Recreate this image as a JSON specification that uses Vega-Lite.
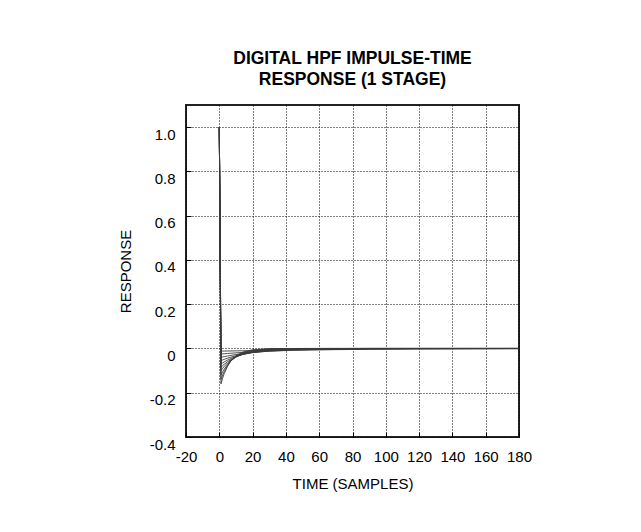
{
  "$schema": "https://vega.github.io/schema/vega-lite/v6.json",
  "autosize": "none",
  "width": 333,
  "height": 332,
  "padding": {"left": 186, "top": 105, "right": 122, "bottom": 95},
  "background": "#ffffff",
  "title": {
    "text": ["DIGITAL HPF IMPULSE-TIME", "RESPONSE (1 STAGE)"],
    "anchor": "middle",
    "font": "Liberation Sans",
    "fontSize": 17.5,
    "fontWeight": "bold",
    "lineHeight": 21,
    "color": "#000000",
    "offset": 17
  },
  "config": {
    "view": {"stroke": "#222222", "strokeWidth": 2},
    "axis": {
      "labelFont": "Liberation Sans",
      "titleFont": "Liberation Sans",
      "labelFontSize": 15,
      "titleFontSize": 15,
      "titleFontWeight": "normal",
      "labelColor": "#000000",
      "titleColor": "#000000",
      "domain": false,
      "grid": true,
      "gridColor": "#000000",
      "gridOpacity": 1,
      "gridWidth": 1,
      "gridDash": [1, 2],
      "ticks": true,
      "tickSize": -5,
      "tickColor": "#000000",
      "tickWidth": 1
    }
  },
  "data": {
    "values": [
      {"c":"a","t":0,"r":1},{"c":"a","t":1,"r":-0.16},{"c":"a","t":2,"r":-0.1344},{"c":"a","t":3,"r":-0.1129},{"c":"a","t":5,"r":-0.0797},{"c":"a","t":7,"r":-0.0562},{"c":"a","t":10,"r":-0.0333},{"c":"a","t":14,"r":-0.0166},{"c":"a","t":20,"r":-0.0058},{"c":"a","t":30,"r":-0.001},{"c":"a","t":45,"r":-0.0001},{"c":"a","t":60,"r":0},{"c":"a","t":90,"r":0},{"c":"a","t":120,"r":0},{"c":"a","t":180,"r":0},
      {"c":"b","t":0,"r":1},{"c":"b","t":1,"r":-0.14},{"c":"b","t":2,"r":-0.1204},{"c":"b","t":3,"r":-0.1035},{"c":"b","t":5,"r":-0.0766},{"c":"b","t":7,"r":-0.0566},{"c":"b","t":10,"r":-0.036},{"c":"b","t":14,"r":-0.0197},{"c":"b","t":20,"r":-0.008},{"c":"b","t":30,"r":-0.0018},{"c":"b","t":45,"r":-0.0002},{"c":"b","t":60,"r":0},{"c":"b","t":90,"r":0},{"c":"b","t":120,"r":0},{"c":"b","t":180,"r":0},
      {"c":"c","t":0,"r":1},{"c":"c","t":1,"r":-0.12},{"c":"c","t":2,"r":-0.1056},{"c":"c","t":3,"r":-0.0929},{"c":"c","t":5,"r":-0.072},{"c":"c","t":7,"r":-0.0557},{"c":"c","t":10,"r":-0.038},{"c":"c","t":14,"r":-0.0228},{"c":"c","t":20,"r":-0.0106},{"c":"c","t":30,"r":-0.0029},{"c":"c","t":45,"r":-0.0004},{"c":"c","t":60,"r":-0.0001},{"c":"c","t":90,"r":0},{"c":"c","t":120,"r":0},{"c":"c","t":180,"r":0},
      {"c":"d","t":0,"r":1},{"c":"d","t":1,"r":-0.1},{"c":"d","t":2,"r":-0.09},{"c":"d","t":3,"r":-0.081},{"c":"d","t":5,"r":-0.0656},{"c":"d","t":7,"r":-0.0531},{"c":"d","t":10,"r":-0.0387},{"c":"d","t":14,"r":-0.0254},{"c":"d","t":20,"r":-0.0135},{"c":"d","t":30,"r":-0.0047},{"c":"d","t":45,"r":-0.001},{"c":"d","t":60,"r":-0.0002},{"c":"d","t":90,"r":0},{"c":"d","t":120,"r":0},{"c":"d","t":180,"r":0},
      {"c":"e","t":0,"r":1},{"c":"e","t":1,"r":-0.085},{"c":"e","t":2,"r":-0.0778},{"c":"e","t":3,"r":-0.0712},{"c":"e","t":5,"r":-0.0596},{"c":"e","t":7,"r":-0.0499},{"c":"e","t":10,"r":-0.0382},{"c":"e","t":14,"r":-0.0268},{"c":"e","t":20,"r":-0.0157},{"c":"e","t":30,"r":-0.0065},{"c":"e","t":45,"r":-0.0017},{"c":"e","t":60,"r":-0.0005},{"c":"e","t":90,"r":0},{"c":"e","t":120,"r":0},{"c":"e","t":180,"r":0},
      {"c":"f","t":0,"r":1},{"c":"f","t":1,"r":-0.07},{"c":"f","t":2,"r":-0.0651},{"c":"f","t":3,"r":-0.0605},{"c":"f","t":5,"r":-0.0524},{"c":"f","t":7,"r":-0.0453},{"c":"f","t":10,"r":-0.0364},{"c":"f","t":14,"r":-0.0273},{"c":"f","t":20,"r":-0.0176},{"c":"f","t":30,"r":-0.0085},{"c":"f","t":45,"r":-0.0029},{"c":"f","t":60,"r":-0.001},{"c":"f","t":90,"r":-0.0001},{"c":"f","t":120,"r":0},{"c":"f","t":180,"r":0},
      {"c":"g","t":0,"r":1},{"c":"g","t":1,"r":-0.055},{"c":"g","t":2,"r":-0.052},{"c":"g","t":3,"r":-0.0491},{"c":"g","t":5,"r":-0.0439},{"c":"g","t":7,"r":-0.0392},{"c":"g","t":10,"r":-0.0331},{"c":"g","t":14,"r":-0.0264},{"c":"g","t":20,"r":-0.0188},{"c":"g","t":30,"r":-0.0107},{"c":"g","t":45,"r":-0.0046},{"c":"g","t":60,"r":-0.002},{"c":"g","t":90,"r":-0.0004},{"c":"g","t":120,"r":-0.0001},{"c":"g","t":180,"r":0},
      {"c":"h","t":0,"r":1},{"c":"h","t":1,"r":-0.04},{"c":"h","t":2,"r":-0.0384},{"c":"h","t":3,"r":-0.0369},{"c":"h","t":5,"r":-0.034},{"c":"h","t":7,"r":-0.0313},{"c":"h","t":10,"r":-0.0277},{"c":"h","t":14,"r":-0.0235},{"c":"h","t":20,"r":-0.0184},{"c":"h","t":30,"r":-0.0122},{"c":"h","t":45,"r":-0.0066},{"c":"h","t":60,"r":-0.0036},{"c":"h","t":90,"r":-0.0011},{"c":"h","t":120,"r":-0.0003},{"c":"h","t":180,"r":0},
      {"c":"i","t":0,"r":1},{"c":"i","t":1,"r":-0.025},{"c":"i","t":2,"r":-0.0244},{"c":"i","t":3,"r":-0.0238},{"c":"i","t":5,"r":-0.0226},{"c":"i","t":7,"r":-0.0215},{"c":"i","t":10,"r":-0.0199},{"c":"i","t":14,"r":-0.018},{"c":"i","t":20,"r":-0.0155},{"c":"i","t":30,"r":-0.012},{"c":"i","t":45,"r":-0.0082},{"c":"i","t":60,"r":-0.0056},{"c":"i","t":90,"r":-0.0026},{"c":"i","t":120,"r":-0.0012},{"c":"i","t":180,"r":-0.0003},
      {"c":"j","t":0,"r":1},{"c":"j","t":1,"r":-0.012},{"c":"j","t":2,"r":-0.0119},{"c":"j","t":3,"r":-0.0117},{"c":"j","t":5,"r":-0.0114},{"c":"j","t":7,"r":-0.0112},{"c":"j","t":10,"r":-0.0108},{"c":"j","t":14,"r":-0.0103},{"c":"j","t":20,"r":-0.0095},{"c":"j","t":30,"r":-0.0085},{"c":"j","t":45,"r":-0.0071},{"c":"j","t":60,"r":-0.0059},{"c":"j","t":90,"r":-0.0041},{"c":"j","t":120,"r":-0.0029},{"c":"j","t":180,"r":-0.0014}
    ]
  },
  "mark": {"type": "line", "color": "#3a3a3a", "strokeWidth": 0.9, "clip": true},
  "encoding": {
    "x": {
      "field": "t",
      "type": "quantitative",
      "scale": {"domain": [-20, 180], "nice": false, "zero": false},
      "axis": {
        "title": "TIME (SAMPLES)",
        "values": [-20, 0, 20, 40, 60, 80, 100, 120, 140, 160, 180],
        "labelExpr": "replace(format(datum.value, 'd'), '\u2212', '-')",
        "labelPadding": 17,
        "titlePadding": 12,
        "labelFlush": false
      }
    },
    "y": {
      "field": "r",
      "type": "quantitative",
      "scale": {"domain": [-0.4, 1.1], "nice": false, "zero": false},
      "axis": {
        "title": "RESPONSE",
        "values": [-0.4, -0.2, 0, 0.2, 0.4, 0.6, 0.8, 1.0],
        "labelExpr": "datum.value == 0 ? '0' : replace(format(datum.value, '.1f'), '\u2212', '-')",
        "labelPadding": 16,
        "labelOffset": 7,
        "titlePadding": 16,
        "labelFlush": false
      }
    },
    "detail": {"field": "c", "type": "nominal"},
    "order": {"field": "t", "type": "quantitative"}
  }
}
